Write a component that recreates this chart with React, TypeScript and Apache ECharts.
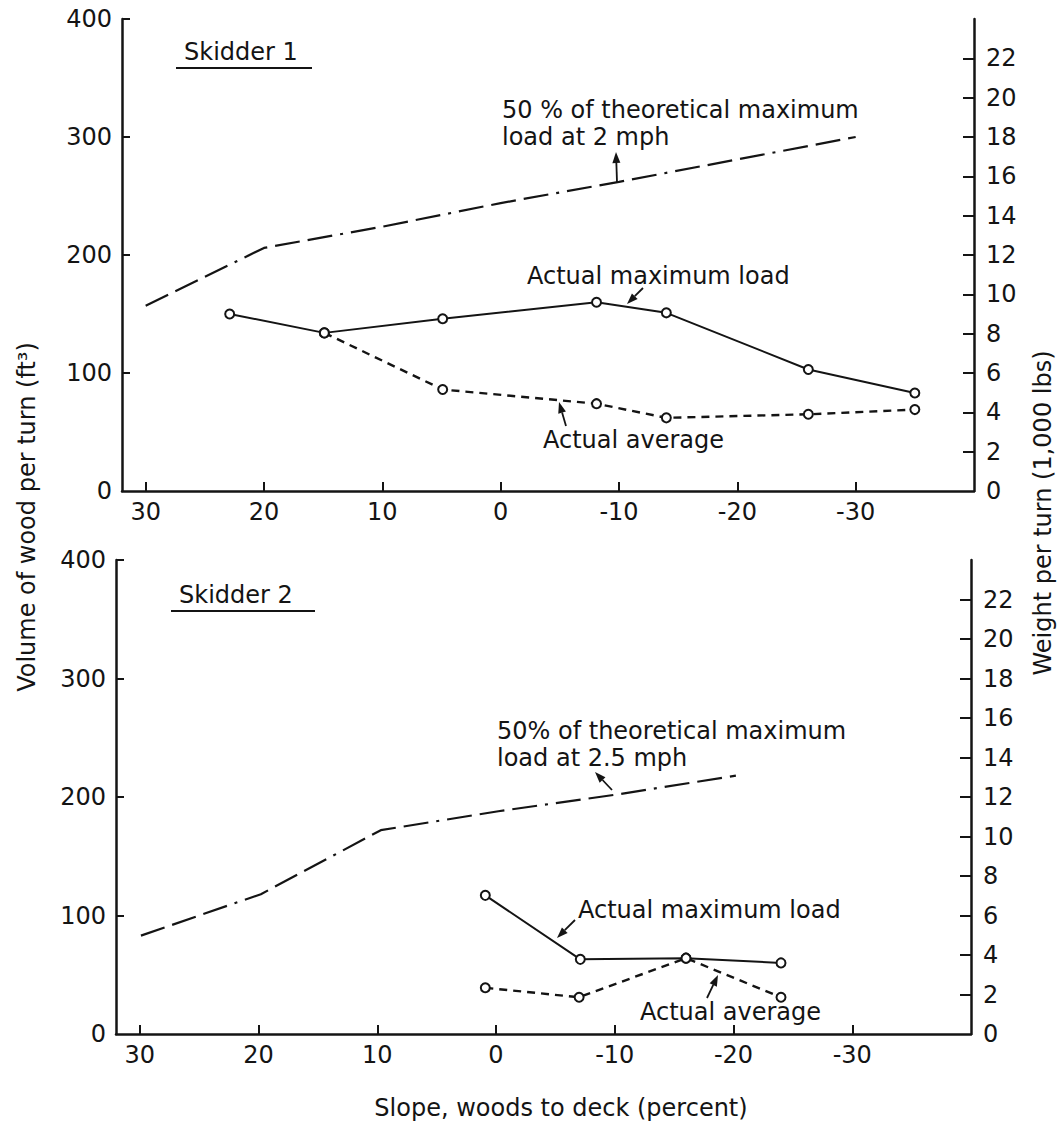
import React, { useEffect, useRef } from "react";
import * as echarts from "echarts";

// ---- Data (slope %, volume ft3) ----
const xTickValues = [30, 20, 10, 0, -10, -20, -30];
const leftTickValues = [0, 100, 200, 300, 400];
const rightTickValues = [0, 2, 4, 6, 8, 10, 12, 14, 16, 18, 20, 22];

// Skidder 1
const s1TheoX = [30, 20, 10, 0, -10, -20, -30];
const s1TheoY = [157, 206, 224, 244, 262, 281, 300];
const s1MaxX = [22.9, 14.9, 4.9, -8.1, -14.0, -26.0, -35.0];
const s1MaxY = [150, 134, 146, 160, 151, 103, 83];
const s1AvgX = [14.9, 4.9, -8.1, -14.0, -26.0, -35.0];
const s1AvgY = [134, 86, 74, 62, 65, 69];

// Skidder 2
const s2TheoX = [29.9, 19.8, 9.7, -0.2, -10.1, -20.2];
const s2TheoY = [83, 118, 172, 188, 202, 218];
const s2MaxX = [0.9, -7.1, -16.0, -24.0];
const s2MaxY = [117, 63, 64, 60];
const s2AvgX = [0.9, -7.0, -16.0, -24.0];
const s2AvgY = [39, 31, 64, 31];

const INK = "#141414";
const FONT = "DejaVu Sans";

const zip = (xs: number[], ys: number[]) => xs.map((x, i) => [x, ys[i]]);

function arrow(x1: number, y1: number, x2: number, y2: number, head = 11, w = 4) {
  const dx = x2 - x1;
  const dy = y2 - y1;
  const L = Math.hypot(dx, dy);
  const ux = dx / L;
  const uy = dy / L;
  const bx = x2 - ux * head;
  const by = y2 - uy * head;
  const px = -uy * w;
  const py = ux * w;
  return [
    { type: "line", shape: { x1, y1, x2: bx, y2: by }, style: { stroke: INK, lineWidth: 1.8 } },
    {
      type: "polygon",
      shape: { points: [[x2, y2], [bx + px, by + py], [bx - px, by - py]] },
      style: { fill: INK },
    },
  ];
}

function label(text: string, x: number, y: number, extra: any = {}) {
  const { align, lineHeight, ...rest } = extra;
  return {
    type: "text",
    x,
    y,
    ...rest,
    style: {
      text,
      fill: INK,
      fontSize: 24,
      fontFamily: FONT,
      lineHeight: lineHeight || 28,
      textAlign: align || "left",
      textVerticalAlign: "middle",
    },
  };
}

export default function App() {
  const ref = useRef<HTMLDivElement>(null);

  useEffect(() => {
    if (!ref.current) return;
    const chart = echarts.init(ref.current, undefined, { renderer: "svg" });

    const xAxisBase = (gridIndex: number) => ({
      gridIndex,
      type: "value",
      min: -40,
      max: 32,
      interval: 10,
      inverse: true,
      axisLine: { show: true, onZero: false, lineStyle: { color: INK, width: 2.5 } },
      axisTick: {
        show: true,
        inside: true,
        length: 9,
        customValues: xTickValues,
        lineStyle: { color: INK, width: 2 },
      },
      axisLabel: {
        customValues: xTickValues,
        formatter: (v: number) => (v % 10 === 0 && v >= -30 && v <= 30 ? String(v) : ""),
        margin: 9,
        fontSize: 24,
        fontFamily: FONT,
        color: INK,
      },
      splitLine: { show: false },
    });

    const leftAxis = (gridIndex: number) => ({
      gridIndex,
      type: "value",
      position: "left",
      min: 0,
      max: 400,
      interval: 100,
      axisLine: { show: true, onZero: false, lineStyle: { color: INK, width: 2.5 } },
      axisTick: {
        show: true,
        inside: true,
        length: 8,
        customValues: [100, 200, 300, 400],
        lineStyle: { color: INK, width: 2 },
      },
      axisLabel: {
        customValues: leftTickValues,
        margin: 10,
        fontSize: 24,
        fontFamily: FONT,
        color: INK,
      },
      splitLine: { show: false },
    });

    const rightAxis = (gridIndex: number) => ({
      gridIndex,
      type: "value",
      position: "right",
      min: 0,
      max: 24,
      interval: 2,
      axisLine: { show: true, onZero: false, lineStyle: { color: INK, width: 2.5 } },
      axisTick: {
        show: true,
        inside: true,
        length: 11,
        customValues: rightTickValues.slice(1),
        lineStyle: { color: INK, width: 2 },
      },
      axisLabel: {
        customValues: rightTickValues,
        formatter: (v: number) => (v >= 24 ? "" : String(v)),
        margin: 12,
        fontSize: 24,
        fontFamily: FONT,
        color: INK,
      },
      splitLine: { show: false },
    });

    const theo = (xi: number, yi: number, data: number[][]) => ({
      type: "line",
      xAxisIndex: xi,
      yAxisIndex: yi,
      data,
      symbol: "none",
      lineStyle: { color: INK, width: 2.2, type: [25, 8, 25, 8, 25, 8, 3, 8] },
      silent: true,
    });
    const maxS = (xi: number, yi: number, data: number[][]) => ({
      type: "line",
      xAxisIndex: xi,
      yAxisIndex: yi,
      data,
      symbol: "emptyCircle",
      symbolSize: 9,
      itemStyle: { color: INK, borderColor: INK, borderWidth: 1.8 },
      lineStyle: { color: INK, width: 2 },
      z: 3,
    });
    const avgS = (xi: number, yi: number, data: number[][]) => ({
      type: "line",
      xAxisIndex: xi,
      yAxisIndex: yi,
      data,
      symbol: "emptyCircle",
      symbolSize: 9,
      itemStyle: { color: INK, borderColor: INK, borderWidth: 1.8 },
      lineStyle: { color: INK, width: 2.4, type: [8, 6] },
      z: 2,
    });

    const graphics: any[] = [
      // top panel annotations
      label("Skidder 1", 184, 52),
      { type: "line", shape: { x1: 176, y1: 68, x2: 312, y2: 68 }, style: { stroke: INK, lineWidth: 2 } },
      label("50 % of theoretical maximum\nload at 2 mph", 502, 123.5, { lineHeight: 27 }),
      ...arrow(617, 182, 616, 152),
      label("Actual maximum load", 527, 276),
      ...arrow(643, 288, 627, 304),
      label("Actual average", 543, 440),
      ...arrow(566, 426, 559, 402),
      // bottom panel annotations
      label("Skidder 2", 179, 595),
      { type: "line", shape: { x1: 171, y1: 611, x2: 315, y2: 611 }, style: { stroke: INK, lineWidth: 2 } },
      label("50% of theoretical maximum\nload at 2.5 mph", 497, 744, { lineHeight: 27 }),
      ...arrow(612, 790, 595, 772),
      label("Actual maximum load", 578, 910),
      ...arrow(575, 920, 557, 938),
      label("Actual average", 640, 1012),
      ...arrow(707, 998, 718, 975),
      // axis titles
      label("Volume of wood per turn (ft³)", 27, 517, { rotation: Math.PI / 2, align: "center" }),
      label("Weight per turn (1,000 lbs)", 1043, 513, { rotation: Math.PI / 2, align: "center" }),
      label("Slope, woods to deck (percent)", 561, 1108, { align: "center" }),
    ];

    chart.setOption({
      animation: false,
      backgroundColor: "#ffffff",
      textStyle: { fontFamily: FONT },
      grid: [
        { left: 122, right: 87, top: 19, height: 472 },
        { left: 116, right: 90, top: 560, height: 474 },
      ],
      xAxis: [xAxisBase(0), xAxisBase(1)],
      yAxis: [leftAxis(0), rightAxis(0), leftAxis(1), rightAxis(1)],
      series: [
        theo(0, 0, zip(s1TheoX, s1TheoY)),
        maxS(0, 0, zip(s1MaxX, s1MaxY)),
        avgS(0, 0, zip(s1AvgX, s1AvgY)),
        theo(1, 2, zip(s2TheoX, s2TheoY)),
        maxS(1, 2, zip(s2MaxX, s2MaxY)),
        avgS(1, 2, zip(s2AvgX, s2AvgY)),
      ],
      graphic: graphics,
    });

    return () => chart.dispose();
  }, []);

  return (
    <div
      ref={ref}
      style={{ position: "absolute", left: 0, top: 0, width: 1061, height: 1126, background: "#fff" }}
    />
  );
}
